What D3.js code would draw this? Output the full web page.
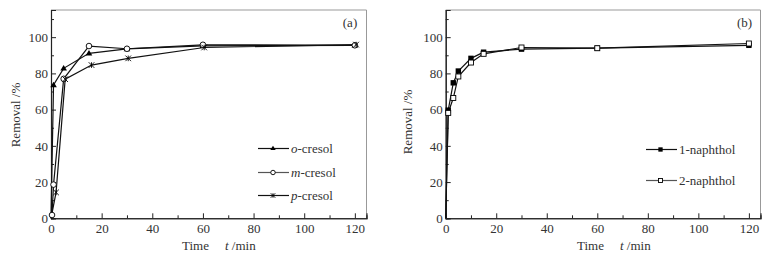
<!DOCTYPE html>
<html>
<head>
<meta charset="utf-8">
<script src="https://cdn.jsdelivr.net/npm/d3@7"></script>
<style>
  body { margin: 0; background: #fff; }
</style>
</head>
<body>
<div id="chart"></div>
<script>
// panel (a): cresols
const timeA = [0, 1, 5, 15, 30, 60, 120];
const oCresol = [0, 73.6, 82.8, 91.1, 93.5, 95.2, 95.5];
const mCresolTime = [0.4, 1, 5, 15, 30, 60, 120];
const mCresol = [1.8, 18.6, 77, 95.1, 93.6, 95.8, 95.5];
const pCresolTime = [0, 2, 5.6, 16, 30.5, 60.5, 120.5];
const pCresol = [0, 14.3, 76.8, 84.6, 88.3, 94.3, 95.9];

// panel (b): naphthols
const timeB = [0, 1, 3, 5, 10, 15, 30, 60, 120];
const naphthol1 = [0, 59.7, 74.8, 81.3, 88.3, 91.7, 93.4, 93.9, 95.5];
const naphthol2 = [0, 58.2, 66.4, 78.3, 86, 90.8, 94.3, 93.9, 96.5];

const xTicks = [0, 20, 40, 60, 80, 100, 120];
const yTicks = [0, 20, 40, 60, 80, 100];

const FONT = '"Liberation Serif", "DejaVu Serif", serif';

const svg = d3.select('#chart').append('svg')
    .attr('width', 779)
    .attr('height', 253)
    .attr('font-family', FONT);

function marker(g, type, x, y, k) {
    const s = 3 * k;
    if (type === 'triangle') {
        g.append('path')
            .attr('d', `M${x},${y - s - 0.3}L${x + s + 0.3},${y + s - 0.8}L${x - s - 0.3},${y + s - 0.8}Z`)
            .attr('fill', '#000');
    } else if (type === 'circle') {
        g.append('circle').attr('cx', x).attr('cy', y).attr('r', 2.8 * k)
            .attr('fill', '#fff').attr('stroke', '#000').attr('stroke-width', 0.9);
    } else if (type === 'star') {
        const r = 2.8 * k;
        g.append('path')
            .attr('d', `M${x - r},${y - r}L${x + r},${y + r}M${x - r},${y + r}L${x + r},${y - r}M${x},${y - r}L${x},${y + r}`)
            .attr('stroke', '#000').attr('stroke-width', 0.9).attr('fill', 'none');
    } else if (type === 'fsquare') {
        g.append('rect').attr('x', x - 2.7 * k).attr('y', y - 2.7 * k)
            .attr('width', 5.4 * k).attr('height', 5.4 * k)
            .attr('fill', '#000');
    } else if (type === 'osquare') {
        g.append('rect').attr('x', x - 2.5 * k).attr('y', y - 2.5 * k)
            .attr('width', 5 * k).attr('height', 5 * k)
            .attr('fill', '#fff').attr('stroke', '#000').attr('stroke-width', 0.9);
    }
}

function drawPanel(opts) {
    const { left, right, top, bottom } = opts;
    const x = d3.scaleLinear().domain([0, 124.6]).range([left, right]);
    const y = d3.scaleLinear().domain([0, 115]).range([bottom, top]);
    const g = svg.append('g');

    // frame: top and right in grey
    g.append('path')
        .attr('d', `M${left},${top}H${right}V${bottom}`)
        .attr('fill', 'none').attr('stroke', '#999').attr('stroke-width', 1);

    // axes with inward ticks
    const xMinor = d3.axisBottom(x).tickValues(d3.range(10, 125, 20)).tickSize(-3).tickFormat('');
    const xMajor = d3.axisBottom(x).tickValues(xTicks).tickSize(-5).tickPadding(5);
    const yMinor = d3.axisLeft(y).tickValues(d3.range(10, 115, 20)).tickSize(-3).tickFormat('');
    const yMajor = d3.axisLeft(y).tickValues(yTicks).tickSize(-5).tickPadding(3);

    [xMinor, xMajor].forEach(ax => {
        g.append('g').attr('transform', `translate(0,${bottom})`).call(ax);
    });
    [yMinor, yMajor].forEach(ax => {
        g.append('g').attr('transform', `translate(${left},0)`).call(ax);
    });
    g.selectAll('g').attr('font-family', null).attr('font-size', null);
    g.selectAll('.domain').attr('stroke', '#222').attr('stroke-width', 1.1);
    g.selectAll('.tick line').attr('stroke', '#222');
    g.selectAll('.tick text').attr('font-size', 13).attr('fill', '#333');

    // series
    const line = d3.line().x(d => x(d[0])).y(d => y(d[1]));
    opts.series.forEach(s => {
        const pts = s.t.map((t, i) => [t, s.v[i]]);
        g.append('path').datum(pts)
            .attr('d', line)
            .attr('fill', 'none')
            .attr('stroke', '#111')
            .attr('stroke-width', 1.2);
    });
    opts.series.forEach(s => {
        s.t.forEach((t, i) => {
            if (s.v[i] > 0) marker(g, s.marker, x(t), y(s.v[i]), 1);
        });
    });

    // legend
    opts.series.forEach(s => {
        const lg = g.append('g');
        lg.append('line')
            .attr('x1', s.lx).attr('x2', s.lx + 31)
            .attr('y1', s.ly).attr('y2', s.ly)
            .attr('stroke', s.legendStroke).attr('stroke-width', 1.2);
        marker(lg, s.marker, s.lx + s.mOff, s.ly, 0.8);
        const txt = lg.append('text')
            .attr('x', s.lx + 33).attr('y', s.ly + 4.5)
            .attr('font-size', 13).attr('fill', '#333');
        if (s.italic) {
            txt.append('tspan').attr('font-style', 'italic').text(s.italic);
        }
        txt.append('tspan').text(s.label);
    });

    // panel label
    g.append('text')
        .attr('x', opts.tagX).attr('y', 27)
        .attr('font-size', 13).attr('fill', '#333')
        .attr('text-anchor', 'middle')
        .text(opts.tag);

    // axis titles
    g.append('text')
        .attr('transform', `translate(${opts.yTitleX},${opts.yTitleY}) rotate(-90)`)
        .attr('text-anchor', 'middle')
        .attr('font-size', 13).attr('fill', '#333')
        .text('Removal /%');
    const xt = g.append('text')
        .attr('x', opts.xTitleX).attr('y', 250)
        .attr('font-size', 13).attr('fill', '#333');
    xt.append('tspan').text('Time');
    xt.append('tspan').attr('dx', 16).attr('font-style', 'italic').text('t');
    xt.append('tspan').text(' /min');
}

drawPanel({
    left: 51, right: 366.5, top: 10, bottom: 218.3,
    tag: '(a)', tagX: 350,
    yTitleX: 20, yTitleY: 115,
    xTitleX: 182,
    series: [
        { t: timeA, v: oCresol, marker: 'triangle', italic: 'o', label: '-cresol',
          lx: 258, ly: 148.5, mOff: 15, legendStroke: '#111' },
        { t: mCresolTime, v: mCresol, marker: 'circle', italic: 'm', label: '-cresol',
          lx: 258, ly: 172.5, mOff: 15, legendStroke: '#555' },
        { t: pCresolTime, v: pCresol, marker: 'star', italic: 'p', label: '-cresol',
          lx: 258, ly: 195.5, mOff: 15, legendStroke: '#111' }
    ]
});

drawPanel({
    left: 445.7, right: 760.5, top: 10, bottom: 218.3,
    tag: '(b)', tagX: 744.5,
    yTitleX: 412, yTitleY: 122,
    xTitleX: 577,
    series: [
        { t: timeB, v: naphthol1, marker: 'fsquare', italic: '', label: '1-naphthol',
          lx: 646, ly: 149.5, mOff: 14.5, legendStroke: '#111' },
        { t: timeB, v: naphthol2, marker: 'osquare', italic: '', label: '2-naphthol',
          lx: 646, ly: 180.5, mOff: 14.5, legendStroke: '#555' }
    ]
});
</script>
</body>
</html>
